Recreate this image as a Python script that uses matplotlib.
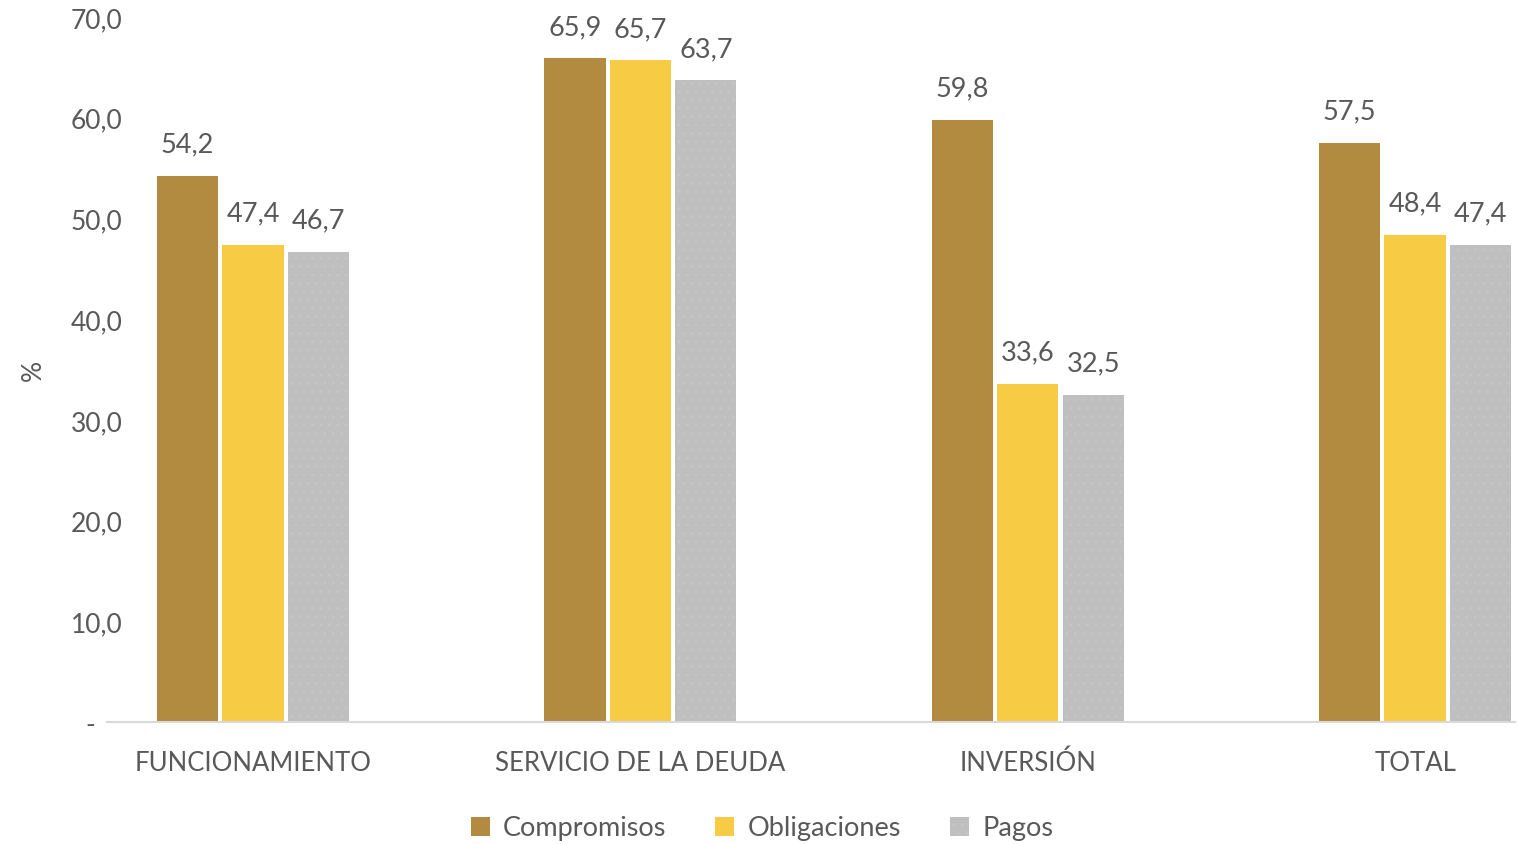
import numpy as np
import matplotlib.pyplot as plt

categorias = ['FUNCIONAMIENTO', 'SERVICIO DE LA DEUDA', 'INVERSIÓN', 'TOTAL']
compromisos = [54.2, 65.9, 59.8, 57.5]
obligaciones = [47.4, 65.7, 33.6, 48.4]
pagos = [46.7, 63.7, 32.5, 47.4]
y_ticks = [0, 10, 20, 30, 40, 50, 60, 70]

plt.rcParams['font.family'] = ['Lato', 'DejaVu Sans']
plt.rcParams['hatch.linewidth'] = 0.4
gris_texto = '#595959'

fig = plt.figure(figsize=(15.19, 8.45), dpi=100)
ax = fig.add_axes([107 / 1519, 122 / 845, (1515 - 107) / 1519, (723 - 18) / 845])

x = np.arange(len(categorias))
ancho = 0.158
series = [
    (compromisos, 'Compromisos', '#B38B40', -0.169),
    (obligaciones, 'Obligaciones', '#F8CB45', 0.0),
    (pagos, 'Pagos', '#BFBFBF', 0.169),
]
for valores, nombre, color, desp in series:
    barras = ax.bar(x + desp, valores, ancho, color=color, label=nombre, linewidth=0)
    if nombre == 'Pagos':
        for b in barras:
            b.set_hatch('..')
            b.set_edgecolor('#c8c8c8')
    for xi, v in zip(x + desp, valores):
        ax.annotate(f'{v:.1f}'.replace('.', ','), (xi, v), xytext=(0, 14),
                    textcoords='offset points', ha='center', va='bottom',
                    fontsize=19.5, color=gris_texto)

ax.set_xlim(-0.377, 3.258)
ax.set_ylim(0, 70)
ax.set_yticks(y_ticks)
# el cero se muestra como guion, un poco más a la izquierda (formato contable)
ax.set_yticklabels(['-    '] + [f'{t:.1f}'.replace('.', ',') for t in y_ticks[1:]],
                   fontsize=19, color=gris_texto)
ax.set_xticks(x)
ax.set_xticklabels(categorias, fontsize=18.5, color=gris_texto)
ax.tick_params(axis='both', length=0)
ax.tick_params(axis='x', pad=20)
ax.tick_params(axis='y', pad=-11)
for lado in ['top', 'right', 'left']:
    ax.spines[lado].set_visible(False)
ax.spines['bottom'].set_color('#d9d9d9')
ax.spines['bottom'].set_linewidth(1.5)

fig.text(33 / 1519, 1 - 370 / 845, '%', rotation=90, ha='center', va='center',
         fontsize=19, color=gris_texto)

fig.legend(loc='center', bbox_to_anchor=(762 / 1519, 1 - 829 / 845), ncol=3,
           frameon=False, fontsize=19.5, labelcolor=gris_texto, handlelength=0.7,
           handleheight=0.7, handletextpad=0.5, columnspacing=1.8)

plt.savefig('out.png', dpi=100)
